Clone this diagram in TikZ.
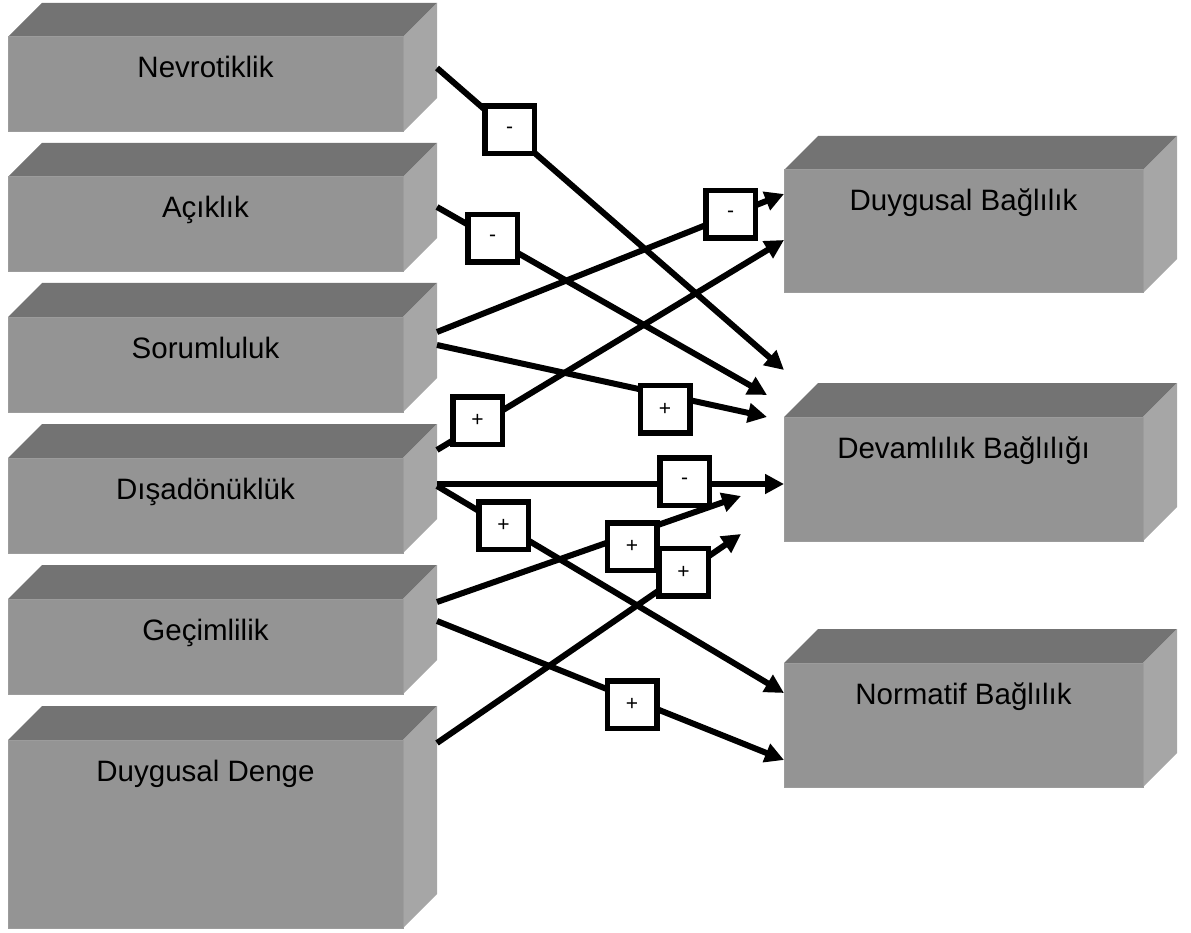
\documentclass[tikz,border=0pt]{standalone}
\usepackage{fontspec}
\setmainfont{Liberation Sans}
\usetikzlibrary{arrows.meta}

\definecolor{facetop}{HTML}{737373}
\definecolor{facefront}{HTML}{949494}
\definecolor{faceside}{HTML}{A6A6A6}
\definecolor{faceedge}{HTML}{9C9C9C}

\tikzset{
  frontface/.style={rectangle, fill=facefront, draw=faceedge, line width=1pt,
    inner sep=0pt, outer sep=0pt},
  boxlabel/.style={font=\fontsize{29.5}{34}\selectfont, inner sep=0pt, anchor=base},
  link/.style={line width=6pt, -{Triangle[length=19pt,width=19pt]}},
  signbox/.style={rectangle, draw=black, fill=white, line width=5.5pt,
    minimum width=49.5pt, minimum height=47.5pt, inner sep=0pt,
    font=\fontsize{21}{24}\selectfont},
}

% solid block: name, left x, front top y, width, height, caption
\newcommand\solidblock[6]{%
  \fill[facetop] (#2,#3) -- ++(34,-34) -- ++(#4,0) -- ++(-34,34) -- cycle;
  \fill[faceside] ({#2+#4},#3) -- ++(34,-34) -- ++(0,#5) -- ++(-34,34) -- cycle;
  \node[frontface, minimum width=#4pt, minimum height=#5pt, anchor=north west] (#1) at (#2,#3) {};
  \node[boxlabel] (#1-t) at ({#2+#4/2},{#3+41}) {#6};
}

\begin{document}
\begin{tikzpicture}[x=1pt, y=-1pt]
\useasboundingbox (0,0) rectangle (1191,933);

% personality traits
\solidblock{nev}{8}{37}{395}{95}{Nevrotiklik}
\solidblock{aci}{8}{177}{395}{95}{Açıklık}
\solidblock{sor}{8}{317}{395}{95}{Sorumluluk}
\solidblock{dis}{8}{458}{395}{95}{Dışadönüklük}
\solidblock{gec}{8}{599}{395}{95}{Geçimlilik}
\solidblock{den}{8}{740}{395}{188}{Duygusal Denge}

% commitment types
\solidblock{duy}{784}{170}{359}{123}{Duygusal Bağlılık}
\solidblock{dev}{784}{417}{359}{124}{Devamlılık Bağlılığı}
\solidblock{nor}{784}{663}{359}{124}{Normatif Bağlılık}

% connector ends
\coordinate (nev-o) at (437,68);
\coordinate (aci-o) at (437,207);
\coordinate (sor-o1) at (437,332);
\coordinate (sor-o2) at (437,345);
\coordinate (dis-o1) at (437,450);
\coordinate (dis-o2) at (437,484);
\coordinate (dis-o3) at (437,486);
\coordinate (gec-o1) at (437,602);
\coordinate (gec-o2) at (437,621);
\coordinate (den-o) at (437,743);

\coordinate (nev-e) at (784,370);
\coordinate (aci-e) at (767,395);
\coordinate (duy-i1) at (784,194);
\coordinate (sor-e) at (767,417);
\coordinate (duy-i2) at (784,240);
\coordinate (dev-i1) at (784,484);
\coordinate (nor-i1) at (784,693);
\coordinate (gec-e) at (741,496);
\coordinate (nor-i2) at (784,760);
\coordinate (den-e) at (741,534);

% paths
\draw[link] (nev-o) -- (nev-e);
\draw[link] (aci-o) -- (aci-e);
\draw[link] (sor-o1) -- (duy-i1);
\draw[link] (sor-o2) -- (sor-e);
\draw[link] (dis-o1) -- (duy-i2);
\draw[link] (dis-o2) -- (dev-i1);
\draw[link] (dis-o3) -- (nor-i1);
\draw[link] (gec-o1) -- (gec-e);
\draw[link] (gec-o2) -- (nor-i2);
\draw[link] (den-o) -- (den-e);

% effect signs
\node[signbox] (s1) at (509.5,130) {-};
\node[signbox] (s2) at (492.5,238.5) {-};
\node[signbox] (s3) at (730.5,214.5) {-};
\node[signbox] (s4) at (665,409) {+};
\node[signbox] (s5) at (477.5,420.5) {+};
\node[signbox] (s6) at (684.5,481.5) {-};
\node[signbox] (s7) at (503.5,525.5) {+};
\node[signbox] (s8) at (632,546.5) {+};
\node[signbox] (s9) at (632,704.5) {+};
\node[signbox] (s10) at (683.5,572) {+};
\end{tikzpicture}
\end{document}
